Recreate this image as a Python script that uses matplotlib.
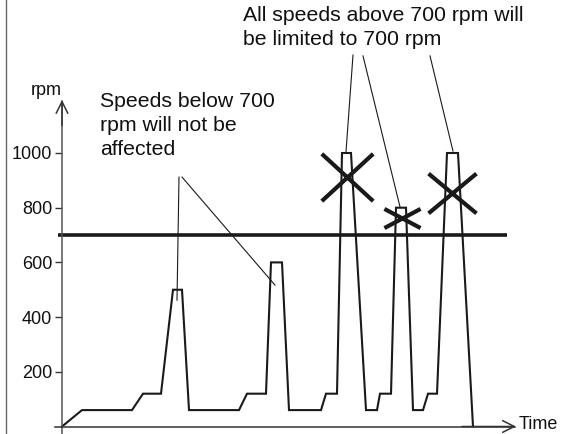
import matplotlib
matplotlib.use("Agg")
import matplotlib.pyplot as plt
from matplotlib.lines import Line2D
from matplotlib.path import Path

plt.rcParams["font.family"] = ["Liberation Sans", "DejaVu Sans"]

# speed trace (time in arbitrary units, speed in rpm)
time = [0, 2.0, 7.0, 8.1, 9.9, 11.1, 12.0, 12.7, 17.7, 18.5, 20.4, 20.9, 22.0,
        22.7, 25.9, 26.4, 27.5, 28.0, 28.9, 30.4, 31.5, 31.8, 32.9, 33.4, 34.4,
        35.1, 36.1, 36.6, 37.5, 38.5, 39.6, 41.1]
rpm = [0, 60, 60, 120, 120, 500, 500, 60, 60, 120, 120, 600, 600,
       60, 60, 120, 120, 1000, 1000, 60, 60, 120, 120, 800, 800,
       60, 60, 120, 120, 1000, 1000, 0]
limit_rpm = 700
yticks = [200, 400, 600, 800, 1000]

# peaks that get cut off by the limit (crossed out)
cross_t = [28.5, 34.0, 39.0]
cross_rpm = [912, 762, 854]

note_below = "Speeds below 700\nrpm will not be\naffected"
note_above = "All speeds above 700 rpm will\nbe limited to 700 rpm"
# leader lines: (text end, target) in data coords
leaders_below = [((11.7, 912), (11.5, 462)), ((12.0, 912), (21.3, 517))]
leaders_above = [((29.1, 1358), (28.4, 1004)), ((30.1, 1355), (33.8, 803)),
                 ((36.8, 1355), (39.1, 1007))]

ink = "#1a1a1a"
fig = plt.figure(figsize=(5.66, 4.34), dpi=100)
ax = fig.add_axes([0, 0, 1, 1])
ax.set_xlim(-6.2, 50.4)
ax.set_ylim(-27.4, 1559.4)
ax.patch.set_visible(False)

for side in ["top", "right"]:
    ax.spines[side].set_visible(False)
ax.spines["left"].set_position(("data", 0))
ax.spines["left"].set_bounds(-27.4, 1190)
ax.spines["left"].set_color("#555555")
ax.spines["left"].set_linewidth(1.1)
ax.spines["bottom"].set_position(("data", 0))
ax.spines["bottom"].set_bounds(-0.7, 45.3)
ax.spines["bottom"].set_color("#333333")
ax.spines["bottom"].set_linewidth(1.1)

ax.set_xticks([])
ax.set_yticks(yticks)
ax.tick_params(axis="y", direction="out", length=5, width=1, color="#333333",
               pad=2, labelsize=13, labelcolor="#111111")

arrow = dict(arrowstyle="->,head_length=0.6,head_width=0.3", color="#333333",
             lw=1.1, shrinkA=0, shrinkB=0, mutation_scale=14)
ax.annotate("", xy=(0, 1194), xytext=(0, 1100), arrowprops=arrow)
ax.annotate("", xy=(45.4, 0), xytext=(40, 0), arrowprops=arrow)
ax.text(0, 1212, "rpm", ha="right", va="baseline", fontsize=13, color="#111111")
ax.text(45.7, 9, "Time", ha="left", va="center", fontsize=13, color="#111111")

ax.plot(time, rpm, color=ink, lw=1.5, solid_joinstyle="miter")
ax.hlines(limit_rpm, -0.4, 44.5, color=ink, lw=2.6)

# crosses, each with its own width:height shape
cross_shapes = [0.92, 0.53, 0.83]
cross_sizes = [37, 26, 34.5]
for t, r, a, s in zip(cross_t, cross_rpm, cross_shapes, cross_sizes):
    path = Path([(-1, -a), (1, a), (-1, a), (1, -a)],
                [Path.MOVETO, Path.LINETO, Path.MOVETO, Path.LINETO])
    ax.plot([t], [r], marker=path, markersize=s, markeredgewidth=3,
            markeredgecolor=ink, linestyle="none")

ax.text(3.8, 1223, note_below, ha="left", va="top", fontsize=15.3,
        linespacing=1.32, color="#111111")
ax.text(18.1, 1538, note_above, ha="left", va="top", fontsize=15.3,
        linespacing=1.32, color="#111111")
for start, end in leaders_below + leaders_above:
    ax.plot([start[0], end[0]], [start[1], end[1]], color=ink, lw=0.8)

fig.add_artist(Line2D([5.5 / 566] * 2, [0, 1], transform=fig.transFigure,
                      color="#666666", lw=1))

fig.savefig("out.png", dpi=100)
